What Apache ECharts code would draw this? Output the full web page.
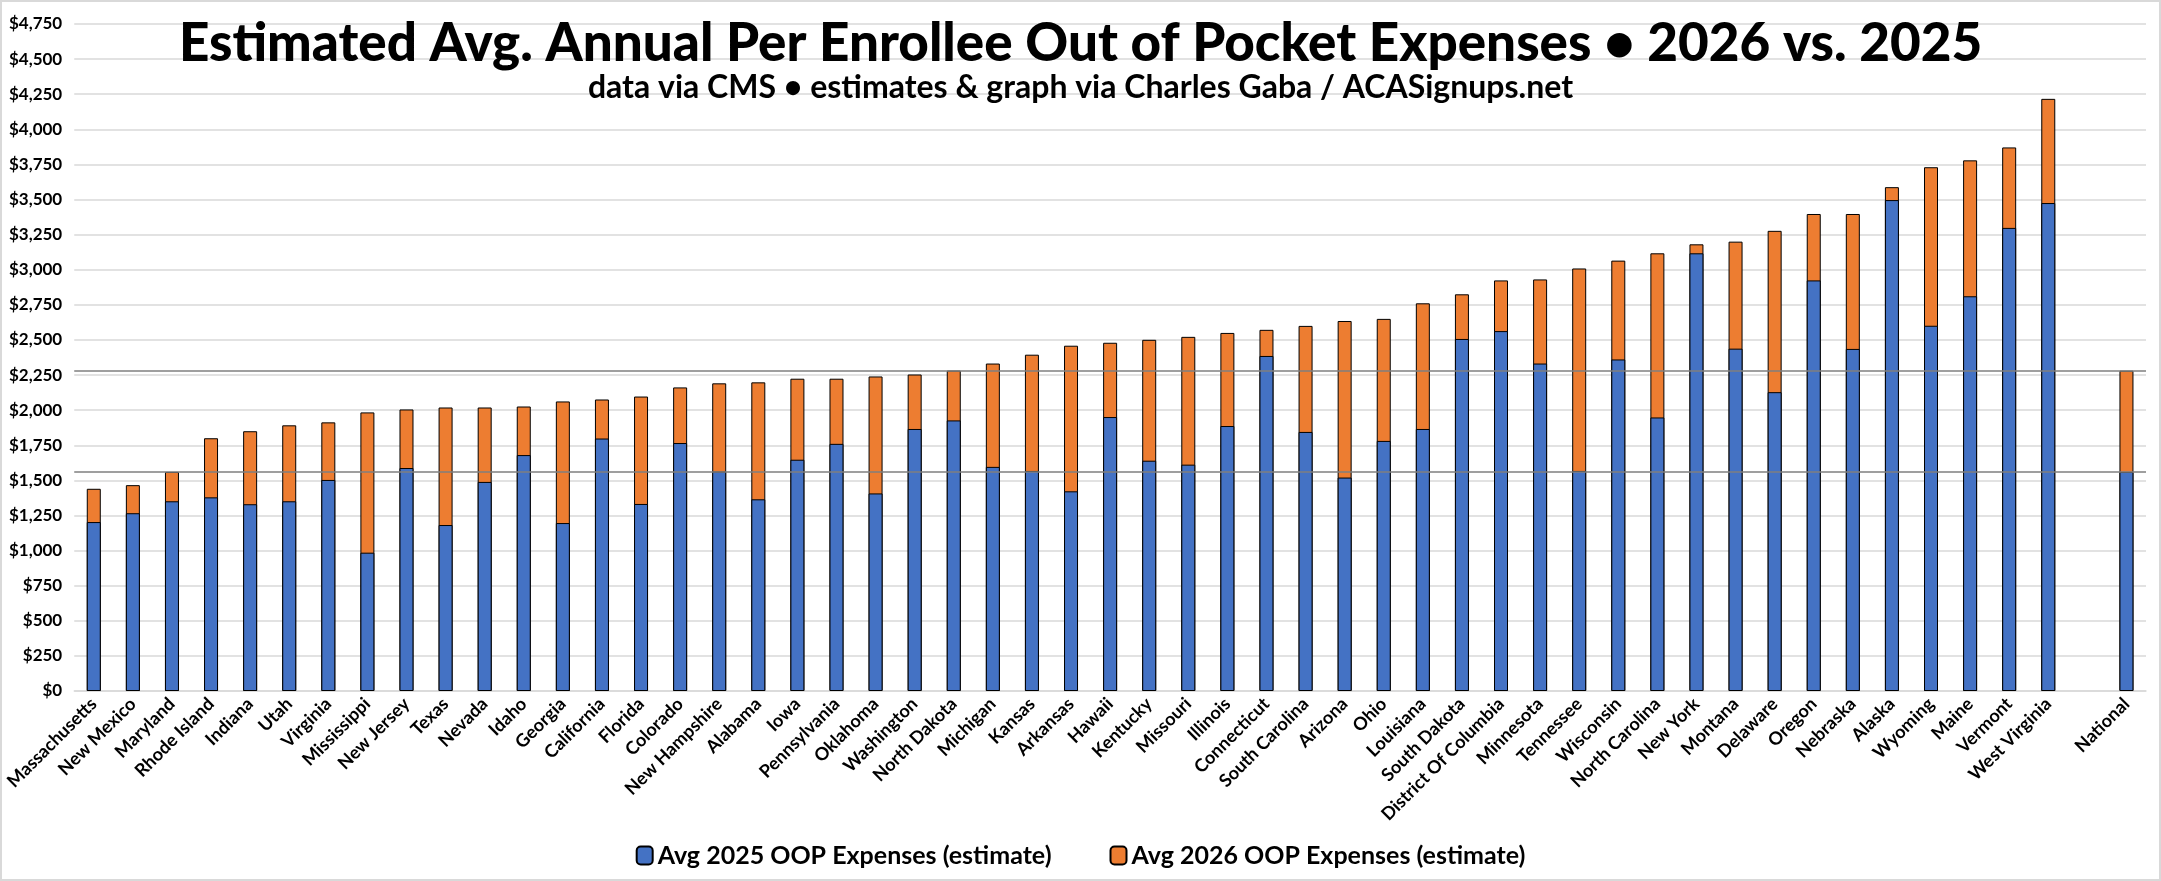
<!DOCTYPE html>
<html>
<head>
<meta charset="utf-8">
<script src="https://cdn.jsdelivr.net/npm/echarts@6/dist/echarts.min.js"></script>
<style>
  html, body { margin: 0; padding: 0; background: #fff; }
  #chart { width: 2161px; height: 881px; box-sizing: border-box; border: 2px solid #d9d9d9; }
</style>
</head>
<body>
<div id="chart"></div>
<script>
// states, sorted by 2026 estimate
const states = [
  'Massachusetts', 'New Mexico', 'Maryland', 'Rhode Island', 'Indiana', 'Utah', 'Virginia',
  'Mississippi', 'New Jersey', 'Texas', 'Nevada', 'Idaho', 'Georgia', 'California', 'Florida',
  'Colorado', 'New Hampshire', 'Alabama', 'Iowa', 'Pennsylvania', 'Oklahoma', 'Washington',
  'North Dakota', 'Michigan', 'Kansas', 'Arkansas', 'Hawaii', 'Kentucky', 'Missouri', 'Illinois',
  'Connecticut', 'South Carolina', 'Arizona', 'Ohio', 'Louisiana', 'South Dakota',
  'District Of Columbia', 'Minnesota', 'Tennessee', 'Wisconsin', 'North Carolina', 'New York',
  'Montana', 'Delaware', 'Oregon', 'Nebraska', 'Alaska', 'Wyoming', 'Maine', 'Vermont',
  'West Virginia'
]

// Avg 2025 OOP expenses (estimate)
const oop2025 = [
  1203, 1266, 1351, 1379, 1330, 1351, 1503,
  985, 1588, 1182, 1489, 1680, 1196, 1798, 1332,
  1766, 1563, 1365, 1647, 1760, 1407, 1866,
  1927, 1596, 1567, 1422, 1951, 1640, 1612, 1887,
  2386, 1845, 1520, 1781, 1866, 2507,
  2563, 2332, 1567, 2361, 1948, 3117,
  2438, 2128, 2924, 2436, 3496, 2601, 2811, 3298,
  3475
]

// Avg 2026 OOP expenses (estimate)
const oop2026 = [
  1440, 1466, 1560, 1800, 1850, 1892, 1913,
  1984, 2005, 2019, 2019, 2026, 2062, 2076, 2097,
  2162, 2191, 2198, 2224, 2224, 2240, 2254,
  2282, 2332, 2395, 2459, 2480, 2501, 2522, 2550,
  2572, 2600, 2635, 2650, 2761, 2825,
  2924, 2931, 3009, 3065, 3117, 3181,
  3200, 3277, 3397, 3397, 3588, 3730, 3779, 3871,
  4217
]

const nationalLabel = 'National'
const national2025 = 1560
const national2026 = 2281

// y axis ticks
const yMin = 0
const yMax = 4750
const yStep = 250

// one empty slot between the states and the national bar
const categories = [...states, '', nationalLabel]
const data2025 = [...oop2025, null, national2025]
const data2026 = [...oop2026, null, national2026]

const font = 'Lato, "Open Sans", sans-serif'

const chart = echarts.init(document.getElementById('chart'))

chart.setOption({
  backgroundColor: '#fff',
  animation: false,
  textStyle: { fontFamily: font },
  title: [
    {
      text: 'Estimated Avg. Annual Per Enrollee Out of Pocket Expenses \u2022 2026 vs. 2025',
      left: 'center',
      top: 10,
      textStyle: { fontFamily: font, fontSize: 53, fontWeight: 900, color: '#000' }
    },
    {
      text: 'data via CMS \u2022 estimates & graph via Charles Gaba / ACASignups.net',
      left: 'center',
      top: 65,
      textStyle: { fontFamily: font, fontSize: 32, fontWeight: 'bold', color: '#000' }
    }
  ],
  legend: {
    bottom: 6,
    left: 'center',
    itemWidth: 16,
    itemHeight: 18,
    itemGap: 58,
    textStyle: { fontFamily: font, fontSize: 25, fontWeight: 'bold', color: '#000' },
    data: ['Avg 2025 OOP Expenses (estimate)', 'Avg 2026 OOP Expenses (estimate)']
  },
  grid: { left: 68, right: 13, top: 22, bottom: 188, containLabel: false },
  xAxis: {
    type: 'category',
    data: categories,
    axisTick: { show: false },
    axisLine: { lineStyle: { color: '#d9d9d9', width: 1.5 } },
    axisLabel: {
      interval: 0,
      rotate: 45,
      margin: 10,
      fontFamily: font,
      fontSize: 18,
      fontWeight: 'bold',
      color: '#000'
    }
  },
  yAxis: {
    type: 'value',
    min: yMin,
    max: yMax,
    interval: yStep,
    axisLine: { show: false },
    axisTick: { show: false },
    splitLine: { lineStyle: { color: '#d9d9d9', width: 1.5 } },
    axisLabel: {
      margin: 12,
      fontFamily: font,
      fontSize: 17,
      fontWeight: 'bold',
      color: '#000',
      formatter: v => '$' + v.toLocaleString('en-US')
    }
  },
  series: [
    {
      name: 'Avg 2025 OOP Expenses (estimate)',
      type: 'bar',
      data: data2025,
      barWidth: 14,
      barGap: '-100%',
      z: 4,
      itemStyle: { color: '#4472C4', borderColor: '#000', borderWidth: 1 }
    },
    {
      name: 'Avg 2026 OOP Expenses (estimate)',
      type: 'bar',
      data: data2026,
      barWidth: 14,
      barGap: '-100%',
      z: 3,
      itemStyle: { color: '#ED7D31', borderColor: '#000', borderWidth: 1 },
      markLine: {
        silent: true,
        symbol: 'none',
        label: { show: false },
        z: 6,
        lineStyle: { color: '#7f7f7f', type: 'solid', width: 1.5 },
        data: [{ yAxis: national2026 }, { yAxis: national2025 }]
      }
    }
  ]
})
</script>
</body>
</html>
